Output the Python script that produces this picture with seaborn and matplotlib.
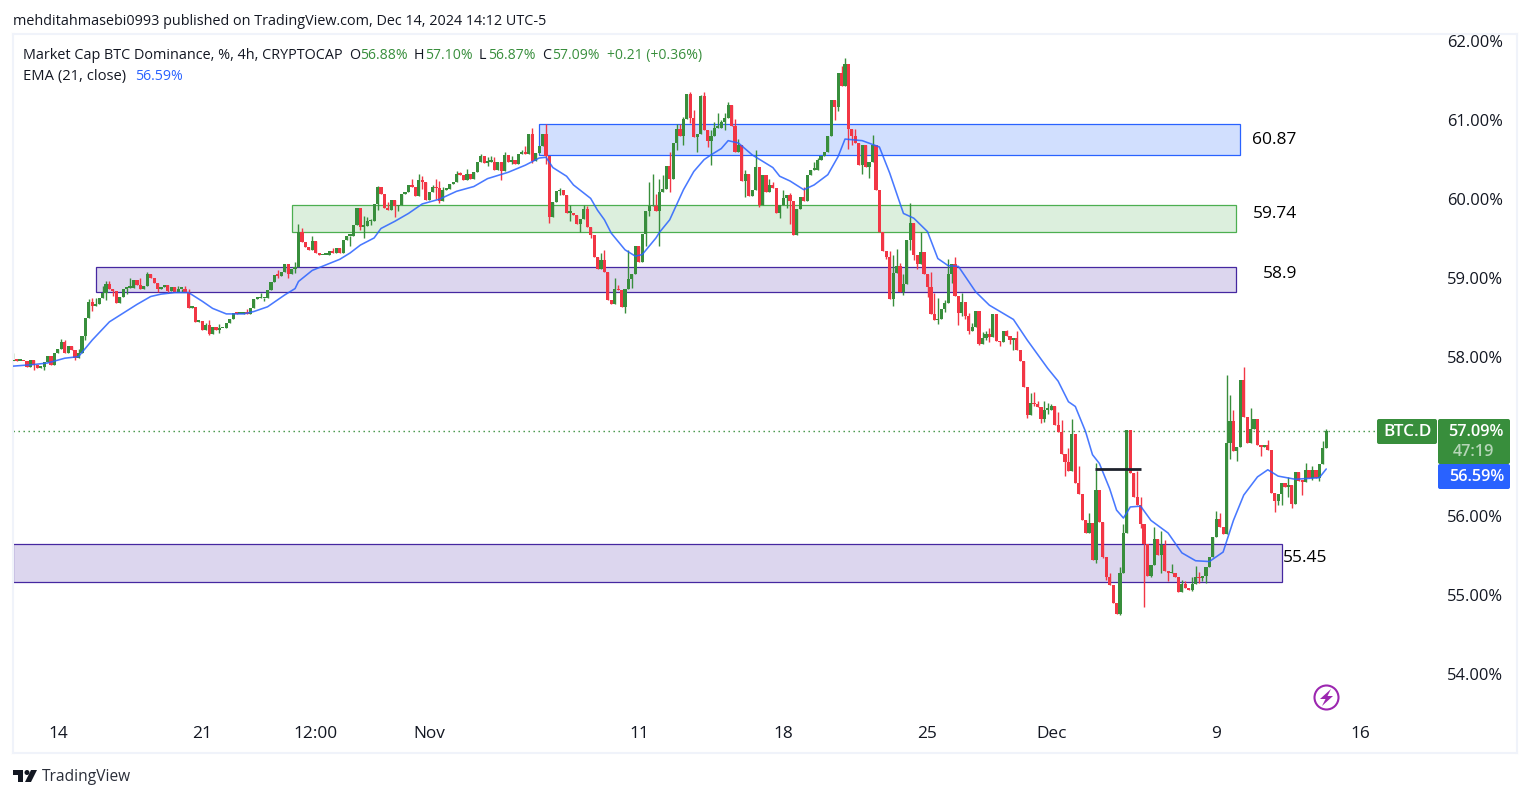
import numpy as np
import pandas as pd
import seaborn as sns
import matplotlib
matplotlib.use("Agg")
import matplotlib.pyplot as plt
from matplotlib.patches import Rectangle, Circle, Polygon, FancyBboxPatch

closes = [
57.97,57.96,57.96,57.95,57.88,57.97,57.90,57.87,57.88,57.94,
58.02,57.90,58.05,58.11,58.19,58.05,58.14,58.09,57.99,58.06,
58.27,58.50,58.70,58.65,58.67,58.75,58.82,58.93,58.87,58.84,
58.69,58.77,58.87,58.88,58.88,58.98,58.92,58.86,58.90,59.05,
59.00,58.94,58.86,58.89,58.92,58.84,58.89,58.83,58.87,58.87,
58.83,58.63,58.64,58.45,58.46,58.35,58.41,58.30,58.38,58.35,
58.37,58.37,58.44,58.49,58.56,58.55,58.55,58.57,58.55,58.62,
58.74,58.75,58.75,58.75,58.85,58.95,59.04,59.03,59.08,59.18,
59.06,59.12,59.14,59.58,59.46,59.40,59.36,59.47,59.32,59.29,
59.30,59.30,59.35,59.32,59.38,59.32,59.49,59.54,59.54,59.68,
59.89,59.65,59.66,59.72,59.73,59.94,60.15,60.06,59.89,59.86,
59.99,59.91,59.93,60.07,60.09,60.18,60.15,60.04,60.24,60.22,
59.99,60.09,60.16,60.14,59.98,60.12,60.13,60.19,60.22,60.32,
60.31,60.24,60.32,60.25,60.34,60.47,60.54,60.46,60.47,60.47,
60.37,60.47,60.36,60.56,60.47,60.49,60.45,60.57,60.60,60.57,
60.82,60.48,60.58,60.67,60.83,60.54,59.77,59.97,60.10,60.11,
60.05,59.83,59.83,59.80,59.69,59.75,59.88,59.65,59.55,59.27,
59.12,59.23,59.08,58.73,58.68,58.86,58.85,58.64,58.86,58.99,
59.05,59.41,59.20,59.56,59.85,59.91,59.92,59.85,60.09,60.13,
60.42,60.26,60.71,60.89,60.80,61.01,61.33,61.02,60.78,60.82,
61.30,60.88,60.74,60.80,60.90,60.90,60.97,61.02,61.19,60.92,
60.60,60.69,60.23,60.32,60.04,60.12,60.41,59.93,60.31,60.09,
60.18,60.14,59.82,59.93,60.02,60.05,59.98,59.55,59.87,60.03,
59.98,60.31,60.37,60.37,60.50,60.55,60.60,60.80,61.25,61.16,
61.60,61.43,61.71,60.89,60.80,60.71,60.43,60.68,60.41,60.47,
60.68,60.12,59.58,59.35,59.27,58.74,59.07,59.15,58.83,58.93,
59.48,59.70,59.29,59.18,59.33,59.06,58.89,58.55,58.47,58.49,
58.61,58.69,59.05,59.18,58.78,58.56,58.70,58.52,58.33,58.38,
58.59,58.17,58.25,58.30,58.26,58.55,58.21,58.19,58.33,58.27,
58.22,58.24,58.09,57.96,57.63,57.27,57.42,57.41,57.37,57.22,
57.34,57.34,57.39,57.15,57.06,56.78,56.68,56.57,57.03,56.41,
56.27,55.94,55.78,55.91,55.44,56.32,55.92,55.48,55.23,55.12,
54.90,54.76,55.27,55.78,57.08,56.54,56.23,56.13,55.90,55.64,
55.24,55.37,55.70,55.50,55.63,55.30,55.27,55.27,55.22,55.04,
55.14,55.09,55.06,55.14,55.22,55.21,55.24,55.35,55.48,55.73,
55.96,55.86,55.77,56.92,57.20,56.82,56.87,57.71,57.25,56.92,
57.10,57.22,56.89,56.87,56.89,56.83,56.29,56.18,56.27,56.41,
56.36,56.39,56.15,56.55,56.44,56.43,56.58,56.48,56.58,56.48,
56.65,56.86,57.07]
first_open = 57.95

# wick extremes, by bar number
highs = {0:58.06,14:58.23,15:58.22,19:58.11,22:58.74,23:58.75,24:58.75,26:58.90,27:58.96,28:58.97,
34:59.0,37:59.0,39:59.08,48:58.90,50:58.90,51:58.86,56:58.44,57:58.47,60:58.42,68:58.61,72:58.82,
77:59.10,82:59.21,83:59.69,84:59.63,87:59.53,93:59.38,102:59.79,103:59.78,104:59.75,106:60.17,
109:59.96,116:60.25,118:60.32,119:60.29,122:60.18,123:60.26,124:60.23,125:60.15,129:60.36,130:60.35,
132:60.38,136:60.57,138:60.53,139:60.54,140:60.53,143:60.60,145:60.54,148:60.62,149:60.67,151:60.90,
155:60.95,159:60.14,162:59.93,166:59.93,167:59.91,171:59.32,172:59.36,175:59.0,176:58.92,179:59.36,
185:60.22,186:60.32,187:60.07,188:60.25,189:60.31,191:60.60,193:60.95,194:60.95,195:61.04,197:61.35,
198:61.13,200:61.32,201:61.35,203:60.87,204:60.98,205:61.09,206:61.0,207:61.09,208:61.23,210:61.01,
211:60.76,213:60.37,216:60.62,220:60.26,221:60.22,224:60.12,226:60.08,230:60.15,233:60.47,234:60.52,
241:61.68,242:61.78,245:60.89,250:60.81,255:59.34,256:59.29,257:59.37,258:59.19,259:59.06,261:59.95,
264:59.59,267:59.08,268:58.81,269:58.75,271:58.72,272:59.24,274:59.27,276:58.81,278:58.56,279:58.44,
282:58.32,283:58.34,284:58.37,289:58.35,292:58.33,296:57.55,297:57.56,298:57.45,300:57.45,301:57.42,
302:57.41,304:57.31,305:57.21,307:56.85,308:57.22,310:56.63,313:56.03,315:56.66,319:55.27,322:55.35,
323:55.90,327:56.56,328:56.23,332:55.86,334:55.81,335:55.69,337:55.39,340:55.19,341:55.17,343:55.22,
344:55.36,345:55.29,350:56.06,351:56.03,353:57.78,354:57.52,355:57.33,358:57.88,360:57.36,365:56.96,
371:56.49,376:56.67,378:56.63,381:56.94,382:57.10}
lows = {6:57.84,9:57.84,18:57.97,21:58.22,23:58.59,27:58.73,29:58.78,33:58.80,42:58.83,45:58.81,
49:58.83,57:58.28,60:58.31,73:58.71,77:59.0,80:59.0,82:59.07,98:59.41,101:59.61,102:59.51,104:59.67,
106:59.86,111:59.78,112:59.85,119:60.13,123:60.0,124:59.95,138:60.42,142:60.24,145:60.45,151:60.46,
155:60.45,156:59.70,159:60.05,162:59.72,165:59.58,168:59.51,178:58.56,180:58.88,184:59.41,185:59.79,
188:59.41,191:60.09,193:60.62,195:60.68,197:60.96,199:60.60,202:60.66,203:60.43,207:60.87,213:60.03,
217:59.90,223:59.76,225:59.89,226:59.69,239:61.0,240:61.12,243:60.63,244:60.69,247:60.32,249:60.27,
254:59.24,256:58.65,259:58.79,261:59.36,262:59.23,263:59.12,266:58.77,269:58.42,271:58.58,273:58.94,
275:58.41,276:58.52,277:58.49,278:58.29,281:58.16,283:58.22,284:58.20,287:58.14,290:58.17,291:58.10,
295:57.24,297:57.38,299:57.17,300:57.19,301:57.29,306:56.50,307:56.56,308:56.56,315:55.40,317:55.46,
318:55.19,322:54.74,328:55.85,329:54.84,331:55.22,334:55.28,336:55.17,343:55.05,345:55.15,346:55.17,
347:55.15,354:56.72,356:56.69,363:56.76,367:56.05,368:56.13,369:56.13,371:56.24,372:56.10,375:56.26,
378:56.45,380:56.44}

ema_bars = [0,6,10,15,19,23,28,32,36,40,43,47,51,55,58,62,67,70,74,79,82,83,87,95,98,101,105,107,111,115,
119,124,129,134,138,144,149,153,155,157,161,163,168,170,172,174,178,181,183,187,188,191,195,198,201,
203,206,208,211,215,221,223,226,230,233,237,240,242,247,252,255,259,262,266,269,272,275,280,284,291,
295,301,304,307,309,312,314,316,319,321,323,325,328,331,336,340,344,348,352,355,358,362,365,368,373,380,382]
ema_vals = [57.89,57.91,57.93,57.99,58.01,58.22,58.45,58.56,58.67,58.77,58.80,58.82,58.82,58.71,58.62,58.55,58.55,
58.58,58.64,58.79,58.87,58.96,59.10,59.24,59.32,59.42,59.51,59.63,59.72,59.82,59.94,60.0,60.10,60.16,60.26,
60.34,60.43,60.52,60.53,60.40,60.29,60.18,60.01,59.86,59.74,59.57,59.36,59.28,59.30,59.51,59.58,59.74,60.12,
60.35,60.50,60.56,60.64,60.74,60.71,60.56,60.40,60.29,60.23,60.12,60.18,60.31,60.54,60.76,60.74,60.66,60.33,
59.82,59.76,59.59,59.25,59.16,59.15,58.83,58.66,58.48,58.22,57.86,57.70,57.44,57.38,57.06,56.77,56.66,56.34,
56.07,55.97,56.11,56.12,55.94,55.78,55.53,55.43,55.42,55.54,55.94,56.26,56.49,56.58,56.50,56.46,56.48,56.59]

zone_starts = [153.0, 81.2, 24.1, 0.0]
zone_ends = [357.0, 355.8, 355.8, 369.0]
zone_lows = [60.56, 59.59, 58.83, 55.16]
zone_highs = [60.95, 59.93, 59.14, 55.64]
zone_labels = ["60.87", "59.74", "58.9", "55.45"]
zone_fills = ["#d1dffe", "#dcefdd", "#dcd6ee", "#dcd6ee"]
zone_edges = ["#2962ff", "#4caf50", "#4527a0", "#4527a0"]

price_ticks = [54, 55, 56, 57, 58, 59, 60, 61, 62]
shown_price_ticks = ["54.00%", "55.00%", "56.00%", "", "58.00%", "59.00%", "60.00%", "61.00%", "62.00%"]
date_tick_bars = [13, 55, 88, 121, 182, 224, 266, 302, 350, 392]
date_tick_labels = ["14", "21", "12:00", "Nov", "11", "18", "25", "Dec", "9", "16"]
last_price = 57.07
level_line = 56.59
level_start, level_end = 314.7, 328.2

GREEN = "#388e3c"
RED = "#f23645"
BLUE = "#2962ff"
INK = "#131722"
PANE = "#f0f3fa"

sns.set_theme(style="white")
plt.rcParams["font.family"] = ["Open Sans", "DejaVu Sans"]

W, H = 1530, 798
fig = plt.figure(figsize=(W / 100, H / 100), dpi=100, facecolor="white")
ax = fig.add_axes([13 / W, 1 - 753 / H, (1517 - 13) / W, (753 - 34) / H])

df = pd.DataFrame({"bar": np.arange(len(closes)), "close": closes})
df["open"] = [first_open] + closes[:-1]
df["high"] = [max(highs.get(i, 0), o, c) for i, o, c in zip(df.bar, df.open, df.close)]
df["low"] = [min(lows.get(i, 99), o, c) for i, o, c in zip(df.bar, df.open, df.close)]
df["colour"] = np.where(df.close >= df.open, GREEN, RED)

# zones
for s, e, lo, hi, fc, ec in zip(zone_starts, zone_ends, zone_lows, zone_highs, zone_fills, zone_edges):
    ax.add_patch(Rectangle((s, lo), e - s, hi - lo, facecolor=fc, edgecolor=ec, lw=0.9, zorder=1))

ax.axhline(last_price, color=GREEN, lw=1, ls=(0, (1, 2.6)), zorder=1.5, xmax=(1377 - 13) / (1517 - 13))

# candles
ax.vlines(df.bar, df.low, df.high, colors=df.colour, lw=1, zorder=2)
body = (df.close - df.open).abs().clip(lower=0.02)
ax.bar(df.bar, body, bottom=df[["open", "close"]].min(axis=1), width=0.92, color=df.colour, lw=0, zorder=3)

# EMA
sns.lineplot(data=pd.DataFrame({"bar": ema_bars, "ema": ema_vals}), x="bar", y="ema", ax=ax,
             color=BLUE, lw=1.15, zorder=4, errorbar=None, alpha=0.85)
ax.hlines(level_line, level_start, level_end, color="#1e222d", lw=2, zorder=5)

ax.set_xlim(-0.06, 437.5)
ax.set_ylim(53.0, 62.088)
ax.set_xlabel("")
ax.set_ylabel("")
ax.set_xticks(date_tick_bars, date_tick_labels)
ax.set_yticks(price_ticks, shown_price_ticks)
ax.yaxis.tick_right()
ax.tick_params(axis="y", length=0, pad=-10, labelsize=11.9, labelcolor=INK)
ax.tick_params(axis="x", length=0, pad=-19.5, labelsize=12.4, labelcolor=INK)
for t in ax.get_yticklabels():
    t.set_ha("right")
for sp in ax.spines.values():
    sp.set_color(PANE)
    sp.set_linewidth(1.5)
ax.grid(False)

# overlay in pixel coordinates for the page furniture
ov = fig.add_axes([0, 0, 1, 1], facecolor="none")
ov.set_xlim(0, W)
ov.set_ylim(H, 0)
ov.axis("off")

def label(x, y, s, size=10.6, color=INK, **kw):
    kw.setdefault("va", "center")
    kw.setdefault("ha", "left")
    ov.text(x, y + 1.2, s, fontsize=size, color=color, **kw)

label(13, 20, "mehditahmasebi0993 published on TradingView.com, Dec 14, 2024 14:12 UTC-5", size=10.4)
label(23, 54, "Market Cap BTC Dominance, %, 4h, CRYPTOCAP", size=10.35)
for x, s in zip([349, 414, 479, 542], ["O", "H", "L", "C"]):
    label(x, 54, s, size=10.3)
for x, s in zip([360, 425, 488, 552, 607], ["56.88%", "57.10%", "56.87%", "57.09%", "+0.21 (+0.36%)"]):
    label(x, 54, s, size=10.1, color=GREEN)
label(23, 75, "EMA (21, close)", size=10.6)
label(135, 75, "56.59%", size=10.2, color=BLUE)

for x, y, s in zip([1274, 1275, 1280, 1305], [139, 213, 273, 557], zone_labels):
    label(x, y, s, size=12.5, color="black", ha="center")

def tag(x0, y0, x1, y1, color):
    ov.add_patch(FancyBboxPatch((x0 + 2, y0 + 2), x1 - x0 - 4, y1 - y0 - 4, boxstyle="round,pad=2",
                                facecolor=color, edgecolor="none", zorder=6))

tag(1377, 419, 1437, 444, GREEN)
tag(1438, 419, 1510, 464, GREEN)
tag(1438, 464, 1510, 489, BLUE)
label(1408, 431, "BTC.D", size=12.3, color="white", ha="center", zorder=7, fontweight="semibold")
label(1504, 431, "57.09%", size=11.7, color="white", ha="right", zorder=7, fontweight="semibold")
label(1494, 451, "47:19", size=11.7, color="#b5d5b7", ha="right", zorder=7, fontweight="semibold")
label(1504, 476, "56.59%", size=11.7, color="white", ha="right", zorder=7, fontweight="semibold")

# bolt icon
ov.add_patch(Circle((1326.5, 697.5), 12, facecolor="white", edgecolor="#9c27b0", lw=1.5, zorder=6))
ov.add_patch(Polygon([(1331, 689), (1320, 699), (1325.5, 699), (1322, 706), (1333, 696), (1327.5, 696)],
                     closed=True, facecolor="#9c27b0", edgecolor="none", zorder=7))

# TradingView mark
ov.add_patch(Polygon([(13, 770), (23, 770), (23, 782), (18, 782), (18, 775), (13, 775)],
                     closed=True, facecolor=INK, edgecolor="none"))
ov.add_patch(Circle((27, 772.5), 2.5, facecolor=INK, edgecolor="none"))
ov.add_patch(Polygon([(37, 770), (31, 782), (25, 782), (31, 770)], closed=True, facecolor=INK, edgecolor="none"))
label(42, 776, "TradingView", size=11.2, color="#2a2e39")

fig.savefig("out.png", dpi=100, facecolor="white")
